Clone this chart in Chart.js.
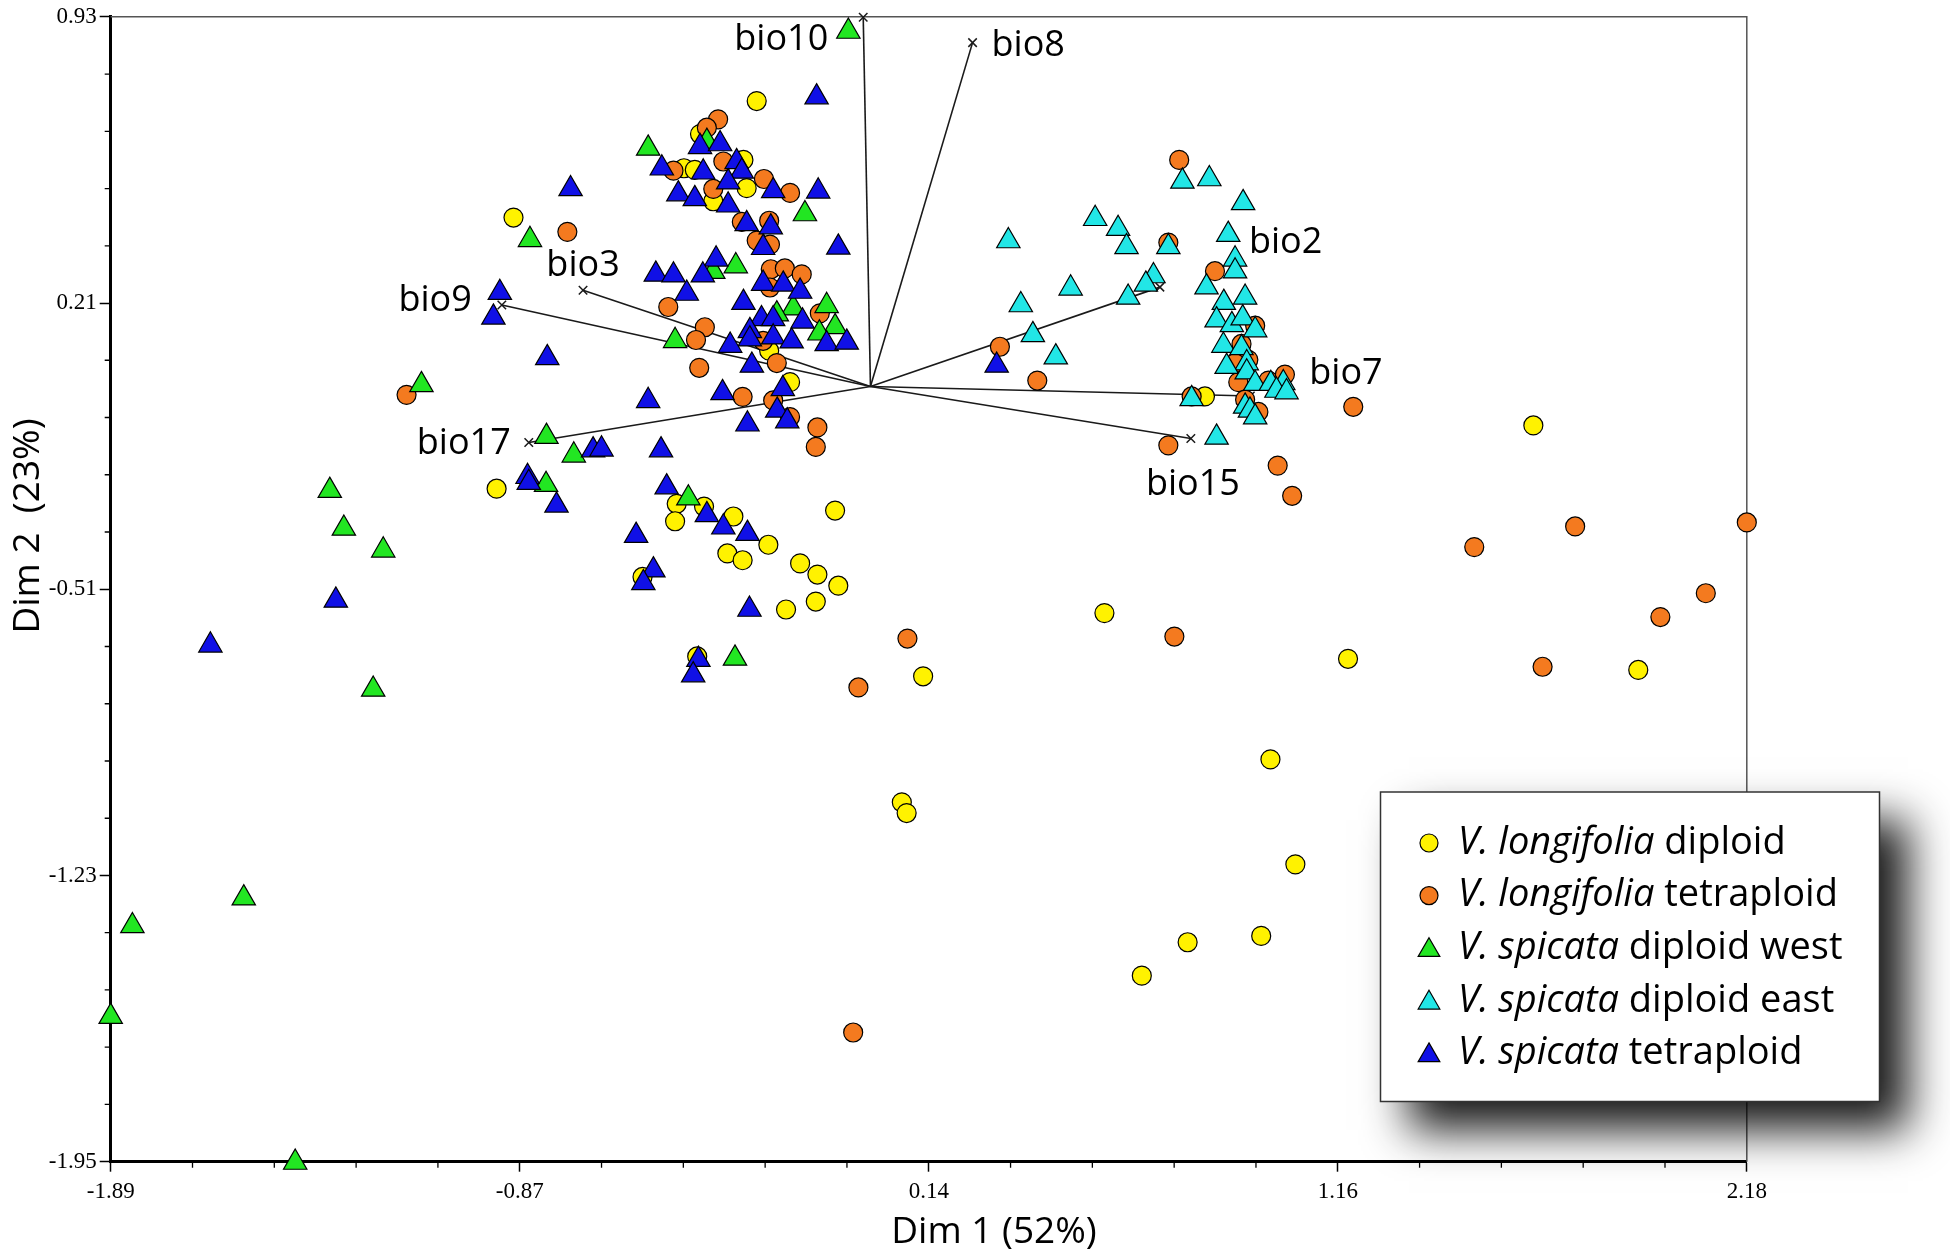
<!DOCTYPE html>
<html>
<head>
<meta charset="utf-8">
<script src="https://cdn.jsdelivr.net/npm/chart.js@4.4.1/dist/chart.umd.min.js"></script>
<style>
  html, body { margin: 0; padding: 0; background: #fff; }
  #wrap { width: 1950px; height: 1258px; position: relative; }
</style>
</head>
<body>
<div id="wrap"><canvas id="pca"></canvas></div>
<script>
// major ticks (4 minor ticks between each pair)
const xTicks = [-1.89, -0.8725, 0.145, 1.1625, 2.18];
const xTickLabels = ['-1.89', '-0.87', '0.14', '1.16', '2.18'];
const yTicks = [0.93, 0.21, -0.51, -1.23, -1.95];
const yTickLabels = ['0.93', '0.21', '-0.51', '-1.23', '-1.95'];

// legend names: italic part + plain part
const groupItalic = ['V. longifolia', 'V. longifolia', 'V. spicata', 'V. spicata', 'V. spicata'];
const groupPlain = [' diploid', ' tetraploid', ' diploid west', ' diploid east', ' tetraploid'];

// PCA scores [Dim 1, Dim 2]
const longDiploid = [
  [-0.283,0.718],[-0.424,0.635],[-0.316,0.570],[-0.464,0.549],[-0.437,0.545],[-0.308,0.499],[-0.391,0.466],
  [-0.252,0.090],[-0.200,0.011],[-0.888,0.425],[-0.930,-0.257],[-0.482,-0.295],[-0.414,-0.302],[-0.486,-0.339],
  [-0.341,-0.327],[-0.254,-0.398],[-0.356,-0.420],[-0.318,-0.437],[-0.088,-0.312],[-0.175,-0.445],[-0.132,-0.473],
  [-0.080,-0.501],[-0.136,-0.541],[-0.210,-0.561],[-0.567,-0.479],[-0.431,-0.679],[0.131,-0.729],[0.078,-1.046],
  [0.090,-1.073],[0.832,-0.025],[0.582,-0.570],[1.188,-0.685],[1.910,-0.713],[1.649,-0.098],[0.995,-0.938],
  [1.057,-1.202],[0.789,-1.398],[0.972,-1.382],[0.675,-1.482]
];
const longTetraploid = [
  [-0.379,0.672],[-0.407,0.651],[-0.366,0.566],[-0.490,0.543],[-0.265,0.522],[-0.391,0.497],[-0.200,0.487],
  [-0.754,0.389],[-0.320,0.414],[-0.252,0.417],[-0.283,0.367],[-0.250,0.357],[-0.248,0.295],[-0.213,0.297],
  [-0.171,0.282],[-0.250,0.249],[-0.503,0.200],[-0.126,0.184],[-0.412,0.149],[-0.434,0.117],[-0.267,0.115],
  [-0.233,0.059],[-0.426,0.047],[-0.318,-0.026],[-0.242,-0.035],[-0.200,-0.077],[-0.132,-0.103],[-0.136,-0.152],
  [-1.154,-0.021],[-0.030,-0.757],[0.092,-0.634],[-0.043,-1.625],[0.768,0.570],[0.741,0.362],[0.857,0.290],
  [0.322,0.100],[0.415,0.015],[0.957,0.153],[0.923,0.107],[0.940,0.067],[0.907,0.059],[0.915,0.011],
  [0.990,0.015],[1.031,0.030],[0.799,-0.025],[0.932,-0.033],[0.965,-0.064],[0.741,-0.148],[1.201,-0.051],
  [1.013,-0.199],[1.049,-0.275],[0.756,-0.629],[1.502,-0.404],[1.753,-0.352],[2.180,-0.342],[2.078,-0.520],
  [1.965,-0.580],[1.672,-0.705]
];
const spicDiploidWest = [
  [-0.055,0.893],[-0.553,0.599],[-0.407,0.616],[-0.163,0.434],[-0.847,0.369],[-0.335,0.303],[-0.391,0.289],
  [-0.192,0.197],[-0.109,0.203],[-0.233,0.182],[-0.088,0.150],[-0.127,0.134],[-0.486,0.115],[-1.117,0.004],
  [-0.806,-0.126],[-0.738,-0.173],[-0.807,-0.247],[-1.345,-0.262],[-1.310,-0.357],[-1.212,-0.412],[-0.453,-0.281],
  [-0.337,-0.684],[-1.237,-0.762],[-1.559,-1.287],[-1.836,-1.357],[-1.890,-1.585],[-1.431,-1.952]
];
const spicDiploidEast = [
  [0.776,0.516],[0.843,0.522],[0.927,0.462],[0.559,0.422],[0.616,0.397],[0.637,0.351],[0.741,0.351],
  [0.343,0.366],[0.890,0.382],[0.907,0.320],[0.907,0.290],[0.836,0.250],[0.704,0.278],[0.685,0.257],
  [0.641,0.224],[0.498,0.247],[0.374,0.205],[0.879,0.211],[0.932,0.224],[0.861,0.167],[0.899,0.155],
  [0.926,0.172],[0.957,0.142],[0.404,0.130],[0.461,0.074],[0.878,0.103],[0.923,0.097],[0.936,0.059],
  [0.886,0.050],[0.936,0.036],[0.957,0.007],[0.996,0.007],[1.027,0.009],[1.010,-0.010],[1.035,-0.014],
  [0.799,-0.031],[0.932,-0.050],[0.944,-0.060],[0.957,-0.077],[0.861,-0.128]
];
const spicTetraploid = [
  [-0.134,0.728],[-0.424,0.603],[-0.374,0.610],[-0.333,0.565],[-0.320,0.541],[-0.519,0.549],[-0.416,0.539],
  [-0.354,0.514],[-0.242,0.492],[-0.130,0.491],[-0.478,0.484],[-0.437,0.472],[-0.354,0.456],[-0.746,0.497],
  [-0.308,0.409],[-0.248,0.401],[-0.267,0.349],[-0.080,0.350],[-0.384,0.320],[-0.534,0.282],[-0.490,0.280],
  [-0.417,0.280],[-0.267,0.259],[-0.217,0.257],[-0.175,0.239],[-0.457,0.234],[-0.316,0.211],[-0.271,0.170],
  [-0.242,0.170],[-0.169,0.164],[-0.300,0.140],[-0.300,0.119],[-0.242,0.124],[-0.196,0.114],[-0.109,0.107],
  [-0.059,0.111],[-0.349,0.103],[-0.295,0.053],[-0.218,-0.006],[-0.368,-0.016],[-0.553,-0.036],[-0.232,-0.060],
  [-0.207,-0.087],[-0.306,-0.095],[-0.922,0.236],[-0.938,0.174],[-0.804,0.072],[-0.690,-0.160],[-0.669,-0.158],
  [-0.521,-0.160],[-0.853,-0.227],[-0.850,-0.242],[-0.781,-0.299],[-0.507,-0.253],[-0.407,-0.323],[-0.366,-0.354],
  [-0.306,-0.370],[-0.583,-0.375],[-0.540,-0.462],[-0.565,-0.494],[-0.301,-0.561],[-0.428,-0.687],[-0.441,-0.726],
  [-1.330,-0.538],[-1.642,-0.651],[0.314,0.053]
];

// biplot vectors (bioclim variables)
const vecNames = ['bio10', 'bio8', 'bio3', 'bio9', 'bio17', 'bio2', 'bio7', 'bio15'];
const vecX = [-0.018, 0.254, -0.715, -0.917, -0.850, 0.720, 0.945, 0.797];
const vecY = [0.929, 0.865, 0.242, 0.205, -0.141, 0.250, -0.024, -0.131];

// styling
const groups = [longDiploid, longTetraploid, spicDiploidWest, spicDiploidEast, spicTetraploid];
const colors = ['#FFF200', '#F47A1F', '#22E622', '#22E6E6', '#1010E6'];
const shapes = ['circle', 'circle', 'triangle', 'triangle', 'triangle'];
const radii = [9.5, 9.5, 13.5, 13.5, 13.5];
const drawOrder = [5, 4, 3, 2, 1];
// label placement relative to the arrow tip, in px
const vecLabelAlign = ['right', 'left', 'center', 'right', 'right', 'left', 'left', 'center'];
const vecLabelDx = [-35, 19, 0, -30, -18, 89, 59, 2];
const vecLabelDy = [23, 3, -25, -4, 1, -44, -22, 46];

const SANS = '"Open Sans", "Noto Sans", sans-serif';
const SERIF = '"Liberation Serif", "DejaVu Serif", serif';

const datasets = [];
vecNames.forEach((n, i) => {
  datasets.push({
    label: n,
    data: [{x: 0, y: 0}, {x: vecX[i], y: vecY[i]}],
    showLine: true,
    borderColor: '#1a1a1a',
    borderWidth: 1.6,
    pointStyle: 'crossRot',
    pointRadius: [0, 6],
    pointHoverRadius: [0, 6],
    pointBorderColor: '#1a1a1a',
    pointBorderWidth: 1.5,
    order: 10,
    clip: false
  });
});
groups.forEach((g, i) => {
  datasets.push({
    label: groupItalic[i] + groupPlain[i],
    data: g.map(p => ({x: p[0], y: p[1]})),
    pointStyle: shapes[i],
    pointRadius: radii[i],
    pointHoverRadius: radii[i],
    backgroundColor: colors[i],
    borderColor: '#000',
    borderWidth: 1.2,
    order: drawOrder[i],
    clip: false
  });
});

function minorValues(majors) {
  const out = [];
  for (let i = 0; i < majors.length - 1; i++) {
    for (let k = 1; k < 5; k++) out.push(majors[i] + (majors[i + 1] - majors[i]) * k / 5);
  }
  return out;
}

const decor = {
  id: 'decor',
  beforeDatasetsDraw(chart) {
    const {ctx, chartArea: a} = chart;
    ctx.save();
    ctx.strokeStyle = '#555';
    ctx.lineWidth = 1.5;
    ctx.beginPath();
    ctx.moveTo(a.left, a.top);
    ctx.lineTo(a.right, a.top);
    ctx.lineTo(a.right, a.bottom);
    ctx.stroke();
    ctx.restore();
  },
  afterDatasetsDraw(chart) {
    const {ctx, chartArea: a, scales: {x, y}} = chart;
    ctx.save();

    // minor ticks
    ctx.strokeStyle = '#000';
    ctx.lineWidth = 1.3;
    ctx.beginPath();
    minorValues(xTicks).forEach(v => {
      const px = x.getPixelForValue(v);
      ctx.moveTo(px, a.bottom);
      ctx.lineTo(px, a.bottom + 6);
    });
    minorValues(yTicks).forEach(v => {
      const py = y.getPixelForValue(v);
      ctx.moveTo(a.left - 6, py);
      ctx.lineTo(a.left, py);
    });
    ctx.stroke();

    // vector labels
    ctx.fillStyle = '#000';
    ctx.font = '36px ' + SANS;
    ctx.textBaseline = 'middle';
    vecNames.forEach((n, i) => {
      ctx.textAlign = vecLabelAlign[i];
      ctx.fillText(n, x.getPixelForValue(vecX[i]) + vecLabelDx[i], y.getPixelForValue(vecY[i]) + vecLabelDy[i]);
    });

    // axis titles
    ctx.font = '37px ' + SANS;
    ctx.textAlign = 'center';
    ctx.fillText('Dim 1 (52%)', 994, 1232);
    ctx.save();
    ctx.translate(28, 526);
    ctx.rotate(-Math.PI / 2);
    ctx.fillText('Dim 2  (23%)', 0, 0);
    ctx.restore();

    // legend box with drop shadow
    const lx = 1380.5, ly = 792, lw = 499, lh = 309.5;
    ctx.save();
    ctx.shadowColor = 'rgba(0,0,0,0.9)';
    ctx.shadowBlur = 42;
    ctx.shadowOffsetX = 28;
    ctx.shadowOffsetY = 28;
    ctx.fillStyle = '#fff';
    ctx.fillRect(lx, ly, lw, lh);
    ctx.restore();
    ctx.strokeStyle = '#333';
    ctx.lineWidth = 1.5;
    ctx.strokeRect(lx, ly, lw, lh);

    groups.forEach((g, i) => {
      const ry = 843 + i * 52.6;
      ctx.fillStyle = colors[i];
      ctx.strokeStyle = '#000';
      ctx.lineWidth = 1.2;
      Chart.helpers.drawPoint(ctx, {pointStyle: shapes[i], radius: shapes[i] === 'circle' ? 9 : 12.5, borderWidth: 1.2, rotation: 0},
        1429, shapes[i] === 'circle' ? ry : ry + 2);
      ctx.fillStyle = '#000';
      ctx.textAlign = 'left';
      ctx.textBaseline = 'middle';
      ctx.font = 'italic 38px ' + SANS;
      ctx.fillText(groupItalic[i], 1458, ry);
      const w = ctx.measureText(groupItalic[i]).width;
      ctx.font = '38px ' + SANS;
      ctx.fillText(groupPlain[i], 1458 + w, ry);
    });
    ctx.restore();
  }
};

new Chart(document.getElementById('pca'), {
  type: 'scatter',
  data: {datasets},
  options: {
    responsive: true,
    maintainAspectRatio: false,
    animation: false,
    events: [],
    layout: {padding: {top: 11.2, right: 203.2, left: 0, bottom: 0}},
    plugins: {legend: {display: false}, tooltip: {enabled: false}},
    scales: {
      x: {
        type: 'linear',
        min: -1.89,
        max: 2.18,
        afterBuildTicks: s => { s.ticks = xTicks.map(v => ({value: v})); },
        afterFit: s => { s.height = 96.3; },
        ticks: {
          callback: (v, i) => xTickLabels[i],
          font: {family: SERIF, size: 23},
          color: '#000',
          padding: 6,
          maxRotation: 0,
          autoSkip: false
        },
        grid: {drawOnChartArea: false, drawTicks: true, tickLength: 10, tickWidth: 1.5, tickColor: '#000'},
        border: {display: true, color: '#000', width: 3}
      },
      y: {
        type: 'linear',
        min: -1.95,
        max: 0.93,
        afterBuildTicks: s => { s.ticks = yTicks.map(v => ({value: v})); },
        afterFit: s => { s.width = 110.7; },
        ticks: {
          callback: (v, i) => yTickLabels[i],
          font: {family: SERIF, size: 23},
          color: '#000',
          padding: 3,
          autoSkip: false
        },
        grid: {drawOnChartArea: false, drawTicks: true, tickLength: 11, tickWidth: 1.5, tickColor: '#000'},
        border: {display: true, color: '#000', width: 3}
      }
    }
  },
  plugins: [decor]
});
</script>
</body>
</html>
